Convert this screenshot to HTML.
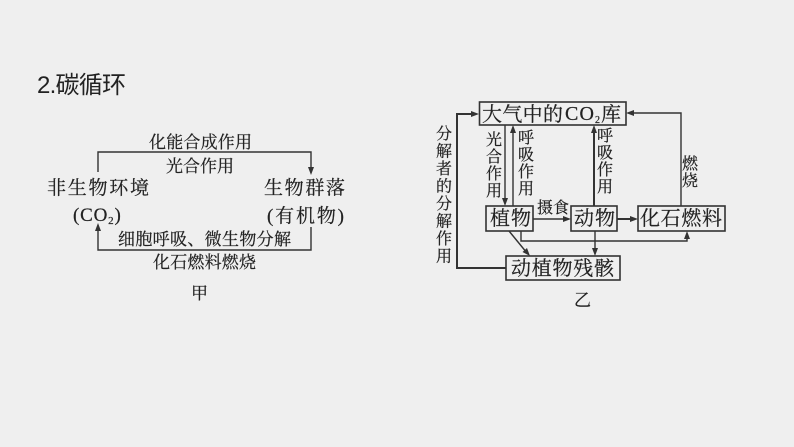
<!DOCTYPE html>
<html lang="zh">
<head>
<meta charset="utf-8">
<style>
html,body{margin:0;padding:0;background:#efefef;width:794px;height:447px;overflow:hidden}
svg{display:block}
text{font-family:"Liberation Serif","Noto Serif CJK SC",serif;fill:#222;stroke:#222;stroke-width:.22}
.t{font-family:"Liberation Sans","Noto Sans CJK SC",sans-serif;fill:#222;stroke:none}
.l{stroke:#333;stroke-width:1.4;fill:none}
.h{stroke:#333;stroke-width:2;fill:none}
.b{stroke:#333;stroke-width:1.6;fill:none}
.a{fill:#333}
</style>
</head>
<body>
<svg width="794" height="447" viewBox="0 0 794 447" xmlns="http://www.w3.org/2000/svg">
<rect width="794" height="447" fill="#efefef"/>
<text class="t" x="37" y="93" font-size="24" textLength="89" lengthAdjust="spacing">2.碳循环</text>

<!-- 甲 -->
<path class="l" d="M98 172V152H311V170"/>
<polygon class="a" points="311,175 308,167 314,167"/>
<path class="l" d="M311 227V250H98V228"/>
<polygon class="a" points="98,223 95,231 101,231"/>
<g font-size="17">
<text x="149" y="148" textLength="103" lengthAdjust="spacing">化能合成作用</text>
<text x="166" y="172" textLength="68" lengthAdjust="spacing">光合作用</text>
<text x="118" y="245" textLength="173" lengthAdjust="spacing">细胞呼吸、微生物分解</text>
<text x="153" y="268" textLength="103" lengthAdjust="spacing">化石燃料燃烧</text>
</g>
<g font-size="19">
<text x="47" y="194" textLength="102" lengthAdjust="spacing">非生物环境</text>
<text x="264" y="194" textLength="81" lengthAdjust="spacing">生物群落</text>
<text x="73" y="221" font-size="19" letter-spacing="0.8">(CO<tspan font-size="11" dy="3">2</tspan><tspan dy="-3">)</tspan></text>
<text x="267" y="222" textLength="77" lengthAdjust="spacing">(有机物)</text>
<text x="191" y="299" font-size="17">甲</text>
</g>

<!-- 乙 boxes -->
<rect class="b" x="479.500" y="102" width="146.500" height="23"/>
<rect class="b" x="486" y="206" width="47" height="25"/>
<rect class="b" x="571" y="206" width="46" height="25"/>
<rect class="b" x="638" y="206" width="87" height="25"/>
<rect class="b" x="506" y="256" width="114" height="24"/>

<!-- 乙 connectors -->
<path class="l" d="M505 125V201"/><polygon class="a" points="505,206 502,198 508,198"/>
<path class="l" d="M513 206V130"/><polygon class="a" points="513,125 510,133 516,133"/>
<path class="h" d="M594 206V130"/><polygon class="a" points="594,125 591,133 597,133"/>
<path class="l" d="M681 206V113H631"/><polygon class="a" points="626,113 634,110 634,116"/>
<path class="h" d="M506 268H457V114H474"/><polygon class="a" points="479,114 471,111 471,117"/>
<path class="l" d="M533 219H566"/><polygon class="a" points="571,219 563,216 563,222"/>
<path class="h" d="M617 219H633"/><polygon class="a" points="638,219 630,216 630,222"/>
<path class="l" d="M509 231L527 253"/><polygon class="a" points="530,256 522.500,252 527,248"/>
<path class="l" d="M521 231V241H687V236"/><polygon class="a" points="687,231 684,239 690,239"/>
<path class="l" d="M595 231V251"/><polygon class="a" points="595,256 592,248 598,248"/>

<!-- 乙 labels -->
<text x="482" y="121" font-size="20" textLength="81" lengthAdjust="spacing">大气中的</text>
<text x="565" y="120" font-size="20" textLength="29" lengthAdjust="spacing">CO</text>
<text x="595" y="123" font-size="10">2</text>
<text x="601" y="121" font-size="20">库</text>
<g font-size="20">
<text x="490" y="225" textLength="41" lengthAdjust="spacing">植物</text>
<text x="574" y="225" textLength="41" lengthAdjust="spacing">动物</text>
<text x="640" y="225" textLength="82" lengthAdjust="spacing">化石燃料</text>
<text x="511" y="275" textLength="103" lengthAdjust="spacing">动植物残骸</text>
</g>
<text x="537" y="213" font-size="16" textLength="32" lengthAdjust="spacing">摄食</text>
<g font-size="16" text-anchor="middle">
<text x="444 444 444 444 444 444 444 444" y="139 156.500 174 191.500 209 226.500 244 261.500">分解者的分解作用</text>
<text x="494 494 494 494" y="145 162 179 196">光合作用</text>
<text x="526 526 526 526" y="143 160 177 194">呼吸作用</text>
<text x="605 605 605 605" y="141 158 175 192">呼吸作用</text>
<text x="690 690" y="169 186">燃烧</text>
</g>
<text x="574" y="306" font-size="17">乙</text>
</svg>
</body>
</html>
